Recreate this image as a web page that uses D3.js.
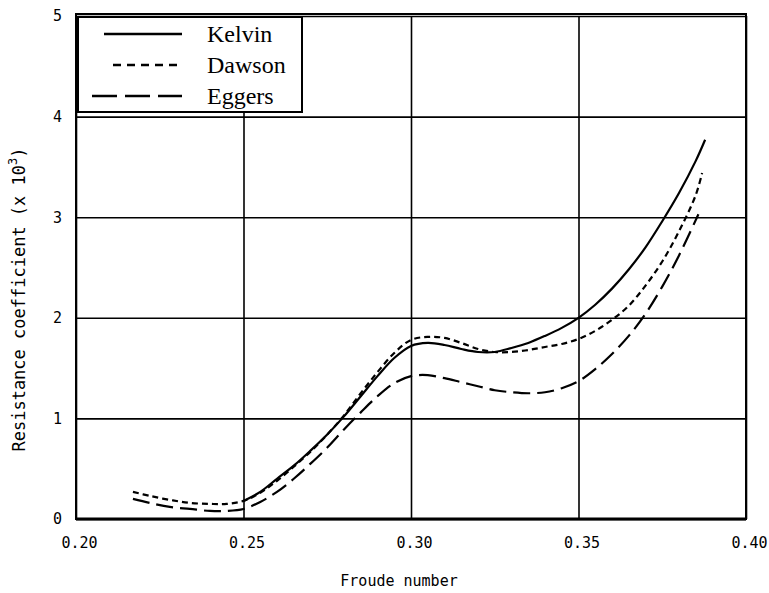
<!DOCTYPE html>
<meta charset="utf-8">
<script src="https://d3js.org/d3.v7.min.js"></script>
<style>
  body { margin: 0; background: #fff; }
  .tick text { font-family: "DejaVu Sans Mono", monospace; font-size: 15px; fill: #000; }
</style>
<body>
<div id="chart"></div>
<script>
// ---- data ----
const xTicks = [0.20, 0.25, 0.30, 0.35, 0.40];
const yTicks = [0, 1, 2, 3, 4, 5];

const kelvinF = [0.250, 0.255, 0.260, 0.265, 0.270, 0.275, 0.280, 0.285, 0.290, 0.295, 0.300, 0.305, 0.310, 0.315, 0.320, 0.325, 0.330, 0.335, 0.340, 0.345, 0.350, 0.355, 0.360, 0.365, 0.370, 0.375, 0.380, 0.385, 0.3878];
const kelvinC = [0.18, 0.27, 0.40, 0.53, 0.68, 0.84, 1.02, 1.22, 1.42, 1.60, 1.72, 1.75, 1.73, 1.69, 1.66, 1.66, 1.70, 1.75, 1.82, 1.90, 2.00, 2.13, 2.29, 2.48, 2.70, 2.96, 3.24, 3.56, 3.77];

const dawsonF = [0.217, 0.222, 0.228, 0.234, 0.240, 0.245, 0.250, 0.255, 0.260, 0.265, 0.270, 0.275, 0.280, 0.285, 0.290, 0.295, 0.300, 0.305, 0.310, 0.315, 0.320, 0.325, 0.330, 0.335, 0.340, 0.345, 0.350, 0.355, 0.360, 0.365, 0.370, 0.375, 0.380, 0.385, 0.3869];
const dawsonC = [0.27, 0.23, 0.19, 0.16, 0.15, 0.15, 0.18, 0.26, 0.38, 0.52, 0.67, 0.84, 1.03, 1.25, 1.46, 1.65, 1.78, 1.81, 1.80, 1.75, 1.69, 1.66, 1.66, 1.68, 1.71, 1.74, 1.79, 1.87, 1.98, 2.12, 2.32, 2.56, 2.86, 3.22, 3.44];

const eggersF = [0.217, 0.222, 0.228, 0.234, 0.240, 0.245, 0.250, 0.255, 0.260, 0.265, 0.270, 0.275, 0.280, 0.285, 0.290, 0.295, 0.300, 0.305, 0.310, 0.315, 0.320, 0.325, 0.330, 0.335, 0.340, 0.345, 0.350, 0.355, 0.360, 0.365, 0.370, 0.375, 0.380, 0.3858];
const eggersC = [0.20, 0.16, 0.12, 0.10, 0.08, 0.08, 0.10, 0.17, 0.27, 0.40, 0.55, 0.71, 0.89, 1.06, 1.22, 1.35, 1.42, 1.43, 1.40, 1.36, 1.32, 1.28, 1.26, 1.25, 1.26, 1.30, 1.37, 1.49, 1.64, 1.82, 2.04, 2.31, 2.62, 3.03];

const seriesNames = ["Kelvin", "Dawson", "Eggers"];
const dashes = [null, "6,4", "17,7"];
const legendDashes = [null, "8,6", "25,8"];

// ---- layout ----
const margin = {top: 16, right: 23, bottom: 74, left: 76},
    width = 769 - margin.left - margin.right,
    height = 593 - margin.top - margin.bottom;

const svg = d3.select("#chart")
  .append("svg")
  .attr("width", 769)
  .attr("height", 593)
  .append("g")
  .attr("transform", `translate(${margin.left},${margin.top})`);

const x = d3.scaleLinear().domain([0.20, 0.40]).range([0, width]);
const y = d3.scaleLinear().domain([0, 5]).range([height, 0]);

// grid lines
svg.append("g")
  .attr("transform", `translate(0,${height})`)
  .call(d3.axisBottom(x).tickValues(xTicks).tickSize(-height).tickFormat(""))
  .call(g => g.select(".domain").remove())
  .call(g => g.selectAll("line").attr("stroke", "#000").attr("stroke-width", 1.6));
svg.append("g")
  .call(d3.axisLeft(y).tickValues(yTicks).tickSize(-width).tickFormat(""))
  .call(g => g.select(".domain").remove())
  .call(g => g.selectAll("line").attr("stroke", "#000").attr("stroke-width", 1.6));

// frame
svg.append("rect")
  .attr("x", 0).attr("y", -2)
  .attr("width", width).attr("height", height + 2)
  .attr("fill", "none").attr("stroke", "#000").attr("stroke-width", 2);
svg.append("line")
  .attr("x1", 0).attr("x2", width)
  .attr("y1", height).attr("y2", height)
  .attr("stroke", "#000").attr("stroke-width", 3);

// tick labels
svg.append("g")
  .attr("transform", `translate(3,${height})`)
  .call(d3.axisBottom(x).tickValues(xTicks).tickSize(0).tickPadding(18).tickFormat(d3.format(".2f")))
  .call(g => g.select(".domain").remove());
svg.append("g")
  .attr("transform", "translate(-14,0)")
  .call(d3.axisLeft(y).tickValues(yTicks).tickSize(0).tickPadding(0).tickFormat(d3.format("d")))
  .call(g => g.select(".domain").remove());

// axis titles
svg.append("text")
  .attr("x", width / 2 - 12)
  .attr("y", height + 67)
  .attr("text-anchor", "middle")
  .style("font-family", "DejaVu Sans Mono, monospace")
  .style("font-size", "15px")
  .text("Froude number");

const yl = svg.append("text")
  .attr("transform", `translate(-51,${height / 2 + 32}) rotate(-90)`)
  .attr("text-anchor", "middle")
  .style("font-family", "DejaVu Sans Mono, monospace")
  .style("font-size", "17px");
yl.append("tspan").text("Resistance coefficient (x 10");
yl.append("tspan").attr("dy", -8).style("font-size", "12px").text("3");
yl.append("tspan").attr("dy", 8).text(")");

// curves
const line = d3.line()
  .x(d => x(d[0]))
  .y(d => y(d[1]))
  .curve(d3.curveCatmullRom.alpha(0.5));

const series = [
  d3.zip(kelvinF, kelvinC),
  d3.zip(dawsonF, dawsonC),
  d3.zip(eggersF, eggersC)
];

svg.selectAll(".curve")
  .data(series)
  .join("path")
    .attr("class", "curve")
    .attr("d", line)
    .attr("fill", "none")
    .attr("stroke", "#000")
    .attr("stroke-width", 2.2)
    .attr("stroke-dasharray", (d, i) => dashes[i]);

// legend
const leg = svg.append("g").attr("transform", "translate(2,1)");
leg.append("rect")
  .attr("x", 0).attr("y", 0)
  .attr("width", 224).attr("height", 95)
  .attr("fill", "#fff").attr("stroke", "#000").attr("stroke-width", 2);

const legX1 = [26, 35, 14];
leg.selectAll(".legline")
  .data(seriesNames)
  .join("line")
    .attr("x1", (d, i) => legX1[i])
    .attr("x2", 104)
    .attr("y1", (d, i) => 17 + i * 31)
    .attr("y2", (d, i) => 17 + i * 31)
    .attr("stroke", "#000")
    .attr("stroke-width", 2.6)
    .attr("stroke-dasharray", (d, i) => legendDashes[i]);

leg.selectAll(".legtext")
  .data(seriesNames)
  .join("text")
    .attr("x", 129)
    .attr("y", (d, i) => 17 + i * 31)
    .attr("dy", "0.35em")
    .style("font-family", "Liberation Serif, serif")
    .style("font-size", "24px")
    .text(d => d);
</script>
</body>
